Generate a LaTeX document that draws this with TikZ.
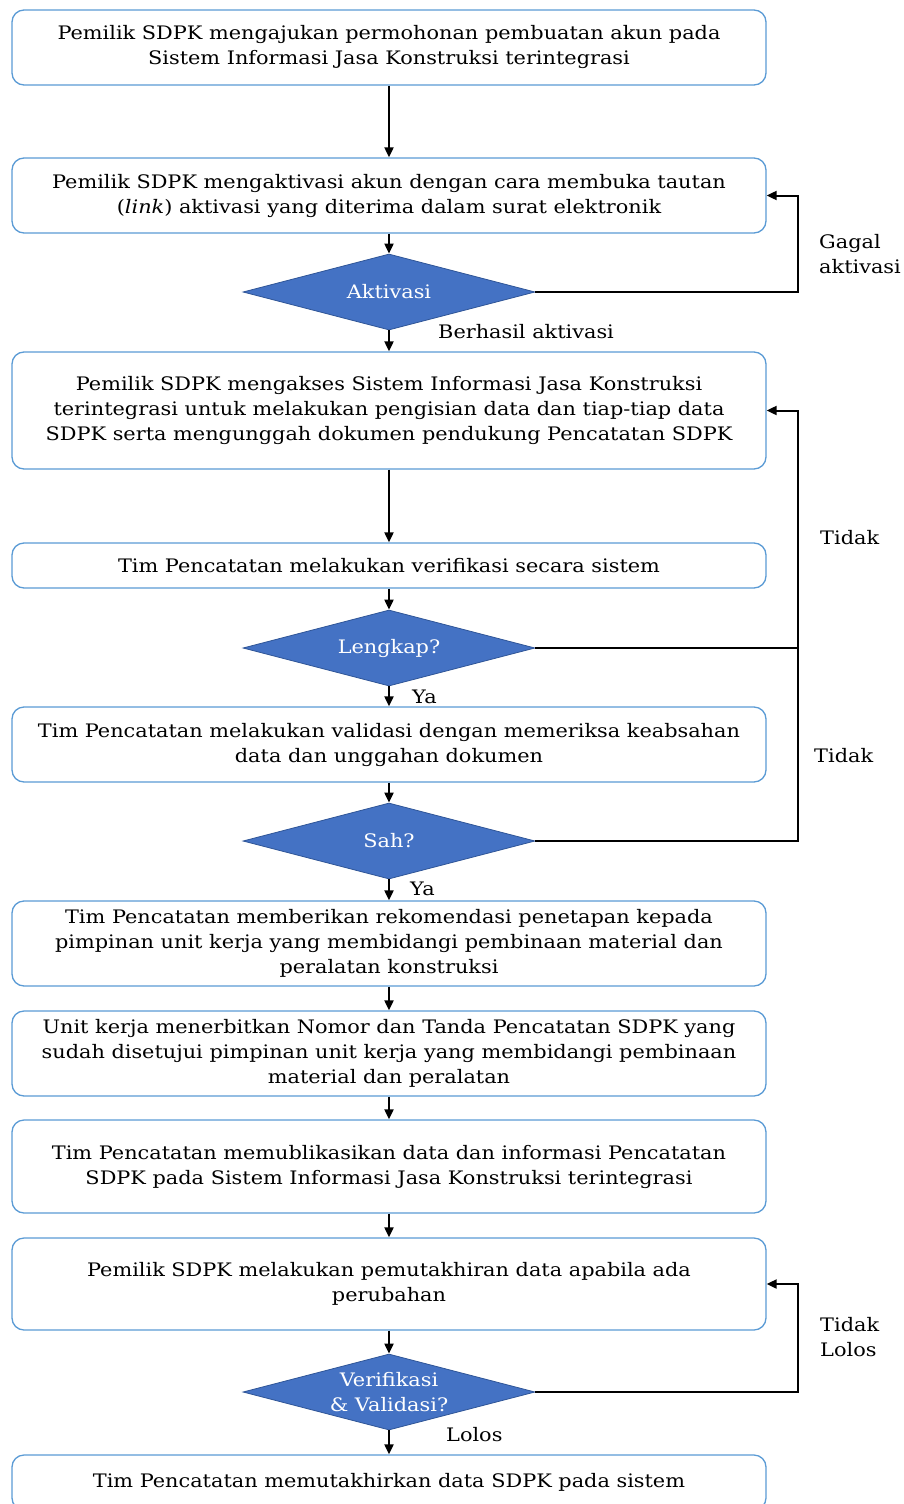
\documentclass[tikz,border=0pt]{standalone}
\usepackage{fontspec}
\setmainfont{DejaVu Serif}[FakeStretch=1.12]
\usetikzlibrary{shapes.geometric,arrows.meta}
\definecolor{boxblue}{HTML}{5B9BD5}
\definecolor{decfill}{HTML}{4472C4}
\definecolor{decdraw}{HTML}{2F5597}
\begin{document}
\begin{tikzpicture}[x=1pt,y=-1pt,
 font=\fontsize{18.6}{25}\selectfont,
 stepbox/.style={draw=boxblue, line width=1.3pt, rounded corners=12pt, fill=white, minimum width=754pt, align=center, inner sep=0pt},
 decision/.style={diamond, fill=decfill, draw=decdraw, line width=0.8pt, text=white, minimum width=292pt, minimum height=76pt, aspect=3.84, inner sep=0pt, align=center},
 arr/.style={-{Triangle[length=10pt,width=9pt]}, line width=2pt},
 link/.style={line width=2pt},
 lbl/.style={inner sep=0pt, align=left}]
\useasboundingbox (0,0) rectangle (903,1504);
\clip (0,0) rectangle (903,1504);
\coordinate (rail) at (798,0);

\node[stepbox, minimum height=75pt] (b1) at (389,47.5) {Pemilik SDPK mengajukan permohonan pembuatan akun pada\\Sistem Informasi Jasa Konstruksi terintegrasi};
\node[stepbox, minimum height=75pt] (b2) at (389,195.5) {Pemilik SDPK mengaktivasi akun dengan cara membuka tautan\\(\textit{link}) aktivasi yang diterima dalam surat elektronik};
\node[decision] (d1) at (389,292) {Aktivasi};
\node[stepbox, minimum height=117pt] (b3) at (389,410.5) {Pemilik SDPK mengakses Sistem Informasi Jasa Konstruksi\\terintegrasi untuk melakukan pengisian data dan tiap-tiap data\\SDPK serta mengunggah dokumen pendukung Pencatatan SDPK};
\node[stepbox, minimum height=45pt] (b4) at (389,565.5) {Tim Pencatatan melakukan verifikasi secara sistem};
\node[decision] (d2) at (389,648) {Lengkap?};
\node[stepbox, minimum height=75pt] (b5) at (389,744.5) {Tim Pencatatan melakukan validasi dengan memeriksa keabsahan\\data dan unggahan dokumen};
\node[decision] (d3) at (389,841) {Sah?};
\node[stepbox, minimum height=85pt] (b6) at (389,943.5) {Tim Pencatatan memberikan rekomendasi penetapan kepada\\pimpinan unit kerja yang membidangi pembinaan material dan\\peralatan konstruksi};
\node[stepbox, minimum height=85pt] (b7) at (389,1053.5) {Unit kerja menerbitkan Nomor dan Tanda Pencatatan SDPK yang\\sudah disetujui pimpinan unit kerja yang membidangi pembinaan\\material dan peralatan};
\node[stepbox, minimum height=93pt] (b8) at (389,1166.5) {Tim Pencatatan memublikasikan data dan informasi Pencatatan\\SDPK pada Sistem Informasi Jasa Konstruksi terintegrasi};
\node[stepbox, minimum height=92pt] (b9) at (389,1284) {Pemilik SDPK melakukan pemutakhiran data apabila ada\\perubahan};
\node[decision] (d4) at (389,1392) {Verifikasi\\\& Validasi?};
\node[stepbox, minimum height=55pt] (b10) at (389,1482.5) {Tim Pencatatan memutakhirkan data SDPK pada sistem};

\draw[arr] (b1) -- (b2);
\draw[arr] (b2) -- (d1);
\draw[arr] (d1) -- (b3);
\draw[arr] (b3) -- (b4);
\draw[arr] (b4) -- (d2);
\draw[arr] (d2) -- (b5);
\draw[arr] (b5) -- (d3);
\draw[arr] (d3) -- (b6);
\draw[arr] (b6) -- (b7);
\draw[arr] (b7) -- (b8);
\draw[arr] (b8) -- (b9);
\draw[arr] (b9) -- (d4);
\draw[arr] (d4) -- (b10);

\draw[arr] (d1.east) -- (rail |- d1.east) -- (rail |- b2.east) -- (b2.east);
\draw[arr] (d2.east) -- (rail |- d2.east) -- (rail |- b3.east) -- (b3.east);
\draw[link] (d3.east) -- (rail |- d3.east) -- (rail |- d2.east);
\draw[arr] (d4.east) -- (rail |- d4.east) -- (rail |- b9.east) -- (b9.east);

\node[lbl, anchor=west] (l1) at (438,332) {Berhasil aktivasi};
\node[lbl, anchor=west] (l2) at (819,254.5) {Gagal\\aktivasi};
\node[lbl, anchor=west] (l3) at (820,538) {Tidak};
\node[lbl, anchor=west] (l4) at (412,697) {Ya};
\node[lbl, anchor=west] (l5) at (814,756) {Tidak};
\node[lbl, anchor=west] (l6) at (410,889) {Ya};
\node[lbl, anchor=west] (l7) at (820,1337.5) {Tidak\\Lolos};
\node[lbl, anchor=west] (l8) at (446,1435) {Lolos};
\end{tikzpicture}
\end{document}
